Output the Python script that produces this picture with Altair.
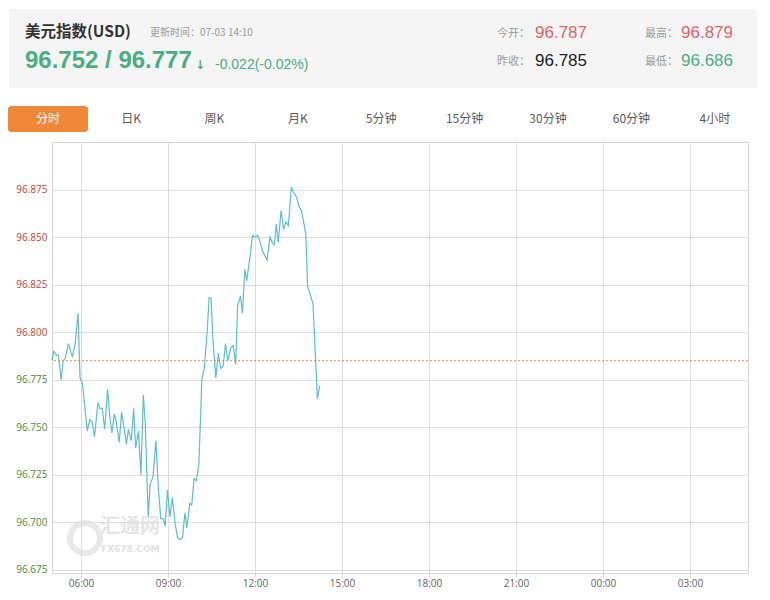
import altair as alt
import pandas as pd

# ---------------- data ----------------
times = [
    "05:00", "05:04", "05:09", "05:13", "05:19", "05:23", "05:27", "05:34", "05:42", "05:48",
    "05:54", "05:58", "06:03", "06:13", "06:18", "06:23", "06:28", "06:35", "06:39", "06:44",
    "06:49", "06:55", "06:59", "07:04", "07:09", "07:13", "07:19", "07:24", "07:29", "07:34",
    "07:38", "07:44", "07:49", "07:53", "07:59", "08:04", "08:09", "08:13", "08:19", "08:23",
    "08:29", "08:35", "08:40", "08:45", "08:50", "08:54", "08:59", "09:04", "09:09", "09:15",
    "09:20", "09:26", "09:30", "09:35", "09:39", "09:45", "09:49", "09:54", "09:59", "10:04",
    "10:10", "10:15", "10:21", "10:25", "10:29", "10:33", "10:39", "10:44", "10:49", "10:54",
    "10:59", "11:04", "11:10", "11:15", "11:20", "11:24", "11:30", "11:34", "11:39", "11:43",
    "11:46", "11:50", "11:55", "12:00", "12:05", "12:10", "12:15", "12:21", "12:25", "12:31",
    "12:36", "12:40", "12:44", "12:48", "12:54", "12:59", "13:04", "13:09", "13:15", "13:21",
    "13:26", "13:31", "13:36", "13:45", "13:49", "14:00", "14:09", "14:14",
]
values = [
    96.785, 96.790, 96.788, 96.788, 96.775, 96.785, 96.786, 96.794, 96.787, 96.794,
    96.810, 96.776, 96.773, 96.748, 96.754, 96.753, 96.745, 96.763, 96.760, 96.760,
    96.749, 96.770, 96.757, 96.747, 96.757, 96.753, 96.742, 96.758, 96.750, 96.741,
    96.749, 96.743, 96.760, 96.739, 96.748, 96.725, 96.767, 96.752, 96.703, 96.720,
    96.724, 96.743, 96.718, 96.702, 96.702, 96.698, 96.717, 96.703, 96.713, 96.699,
    96.692, 96.691, 96.692, 96.705, 96.697, 96.710, 96.709, 96.723, 96.722, 96.731,
    96.775, 96.781, 96.800, 96.818, 96.818, 96.796, 96.776, 96.789, 96.781, 96.782,
    96.794, 96.785, 96.792, 96.793, 96.783, 96.814, 96.819, 96.810, 96.833, 96.827,
    96.833, 96.840, 96.851, 96.850, 96.851, 96.848, 96.843, 96.840, 96.838, 96.850,
    96.847, 96.846, 96.857, 96.847, 96.864, 96.854, 96.858, 96.856, 96.876, 96.873,
    96.871, 96.866, 96.864, 96.852, 96.824, 96.815, 96.765, 96.772,
]
prev_close = 96.785
y_ticks = [96.675, 96.700, 96.725, 96.750, 96.775, 96.800, 96.825, 96.850, 96.875]
x_tick_hours = [(3, 6), (3, 9), (3, 12), (3, 15), (3, 18), (3, 21), (4, 0), (4, 3)]
tabs = ["日K", "周K", "月K", "5分钟", "15分钟", "30分钟", "60分钟", "4小时"]

df = pd.DataFrame({"t": ["2019-07-03T" + s for s in times], "v": values})

# ---------------- geometry (page px) ----------------
PL, PT = 52, 142          # plot origin on the page
W, H = 696, 431

GREEN = "#4cad82"
RED = "#e06666"
CJK = "Noto Sans CJK SC"
NUM = "Liberation Sans"


def txt(s, x, y, size, color, weight="normal", align="left", font=NUM, opacity=1):
    return alt.Chart(alt.Data(values=[{}])).mark_text(
        text=s, fontSize=size, color=color, fontWeight=weight, align=align,
        baseline="middle", font=font, opacity=opacity
    ).encode(x=alt.value(x - PL), y=alt.value(y - PT))


def box(x1, y1, x2, y2, color, radius=0):
    return alt.Chart(alt.Data(values=[{}])).mark_rect(color=color, cornerRadius=radius).encode(
        x=alt.value(x1 - PL), x2=alt.value(x2 - PL), y=alt.value(y1 - PT), y2=alt.value(y2 - PT)
    )


header = [
    box(9, 9, 757, 88, "#f5f5f5"),
    txt("美元指数(USD)", 25, 32, 15.5, "#333333", "bold", font=CJK),
    txt("更新时间：07-03 14:10", 150, 33, 10, "#9a9a9a", font=CJK),
    txt("96.752 / 96.777", 25, 61, 24, GREEN, "bold"),
    txt("↓", 195, 65, 12, GREEN, "bold", font="DejaVu Sans"),
    txt("-0.022(-0.02%)", 215, 65, 14, GREEN),
    txt("今开：", 530, 34, 11, "#9a9a9a", align="right", font=CJK),
    txt("96.787", 535, 33, 17, RED),
    txt("昨收：", 530, 62, 11, "#9a9a9a", align="right", font=CJK),
    txt("96.785", 535, 61, 17, "#222222"),
    txt("最高：", 678, 34, 11, "#9a9a9a", align="right", font=CJK),
    txt("96.879", 681, 33, 17, RED),
    txt("最低：", 678, 62, 11, "#9a9a9a", align="right", font=CJK),
    txt("96.686", 681, 61, 17, GREEN),
    box(8, 106, 88, 132, "#f0883a", radius=3),
    txt("分时", 48, 119, 12, "white", align="center", font=CJK),
]
for i, name in enumerate(tabs):
    header.append(txt(name, 131 + 83.4 * i, 119, 12, "#5a5a5a", align="center", font=CJK))

watermark = [
    alt.Chart(alt.Data(values=[{}])).mark_point(
        shape="circle", size=900, filled=False, strokeWidth=6, color="#dcdcdc", opacity=0.6
    ).encode(x=alt.value(85 - PL), y=alt.value(538 - PT)),
    txt("汇通网", 100, 527, 20, "#dcdcdc", "bold", font=CJK, opacity=0.7),
    txt("FX678.COM", 101, 549, 9, "#d6d6d6", "bold", font="DejaVu Sans", opacity=0.7),
]

x_vals = [alt.DateTime(year=2019, month=7, date=d, hours=h, minutes=0) for d, h in x_tick_hours]

x_enc = alt.X(
    "t:T",
    scale=alt.Scale(domain=[alt.DateTime(year=2019, month=7, date=3, hours=5),
                            alt.DateTime(year=2019, month=7, date=4, hours=5)]),
    axis=alt.Axis(
        values=x_vals, format="%H:%M", title=None, grid=True, gridColor="#dedede",
        domain=False, ticks=True, tickSize=4, tickColor="#cfcfcf", labelPadding=1,
        labelColor="#666666", labelFontSize=10, labelFont="Open Sans",
    ),
)
y_scale = alt.Scale(domain=[96.6734, 96.9], nice=False, zero=False)
y_enc = alt.Y(
    "v:Q",
    scale=y_scale,
    axis=alt.Axis(
        values=y_ticks, format=".3f", title=None, grid=True, gridColor="#dedede",
        domain=False, ticks=False, labelPadding=5, labelFontSize=10, labelFont="Open Sans",
        labelColor={"condition": {"test": "datum.value > 96.785", "value": "#c94343"},
                    "value": "#4a8a3a"},
    ),
)

line = alt.Chart(df).mark_line(color="#5bbfd1", strokeWidth=1.2).encode(x=x_enc, y=y_enc)
prev = alt.Chart(pd.DataFrame({"v": [prev_close]})).mark_rule(
    color="#f0883a", strokeDash=[2, 2], strokeWidth=1
).encode(y=alt.Y("v:Q", scale=y_scale))

chart = alt.layer(line, prev, *watermark, *header).properties(
    width=W, height=H,
    padding={"left": PL - 8, "top": PT - 8, "right": 12, "bottom": 17},
    autosize=alt.AutoSizeParams(type="none"),
    background="white",
).configure_view(stroke="#d6d6d6", strokeWidth=1)

chart.save("out.html", embed_options={"renderer": "svg", "actions": False})
